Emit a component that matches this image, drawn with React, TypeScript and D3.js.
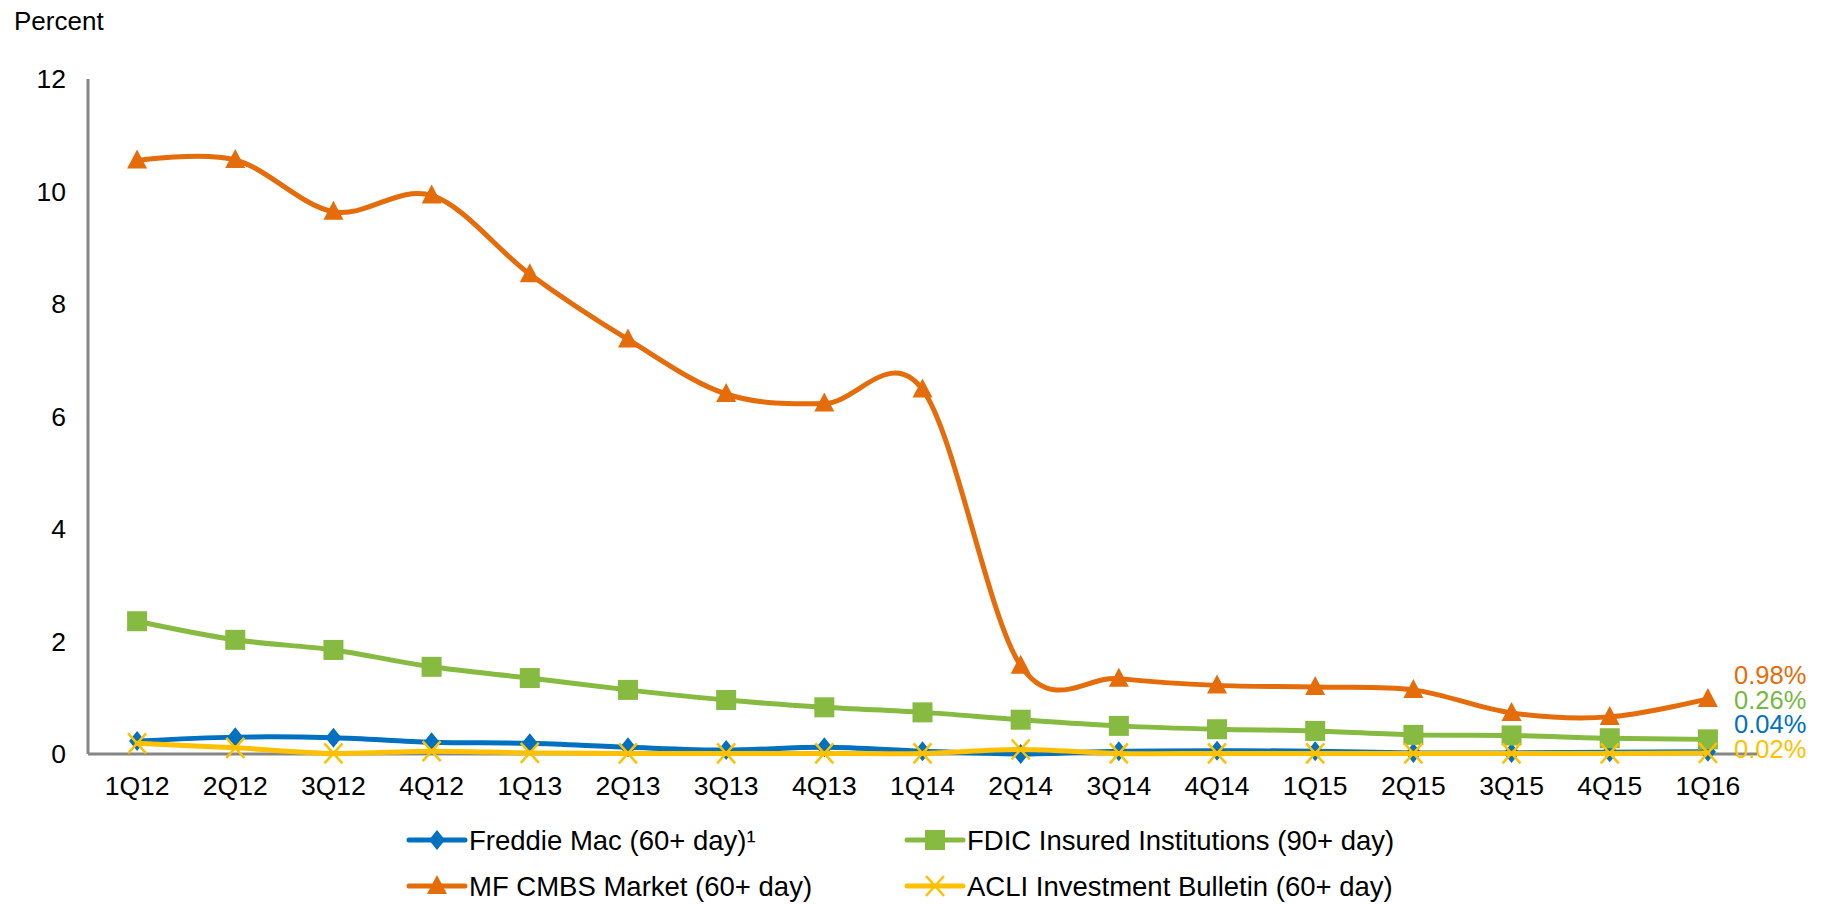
import { useEffect, useRef } from 'react';
import * as d3 from 'd3';

const quarters = [
  '1Q12', '2Q12', '3Q12', '4Q12', '1Q13', '2Q13', '3Q13', '4Q13', '1Q14',
  '2Q14', '3Q14', '4Q14', '1Q15', '2Q15', '3Q15', '4Q15', '1Q16',
];

const freddieMac = [0.23, 0.3, 0.29, 0.21, 0.19, 0.12, 0.07, 0.12, 0.05, 0.0, 0.05, 0.06, 0.05, 0.02, 0.02, 0.03, 0.04];
const fdic = [2.36, 2.03, 1.85, 1.55, 1.35, 1.14, 0.96, 0.83, 0.74, 0.61, 0.5, 0.44, 0.41, 0.34, 0.33, 0.28, 0.26];
const mfCmbs = [10.55, 10.56, 9.64, 9.93, 8.53, 7.37, 6.4, 6.23, 6.48, 1.57, 1.34, 1.22, 1.19, 1.14, 0.73, 0.66, 0.98];
const acli = [0.19, 0.11, 0.01, 0.05, 0.02, 0.01, 0.01, 0.01, 0.01, 0.08, 0.01, 0.01, 0.01, 0.01, 0.01, 0.01, 0.02];

const yTicks = [0, 2, 4, 6, 8, 10, 12];

const endLabels = ['0.98%', '0.26%', '0.04%', '0.02%'];

type Marker = 'diamond' | 'square' | 'triangle' | 'x';

const series: { name: string; values: number[]; color: string; marker: Marker }[] = [
  { name: 'Freddie Mac (60+ day)\u00b9', values: freddieMac, color: '#0070C0', marker: 'diamond' },
  { name: 'FDIC Insured Institutions (90+ day)', values: fdic, color: '#86BA41', marker: 'square' },
  { name: 'MF CMBS Market (60+ day)', values: mfCmbs, color: '#E46C0A', marker: 'triangle' },
  { name: 'ACLI Investment Bulletin (60+ day)', values: acli, color: '#FFC000', marker: 'x' },
];

const labelColors = ['#E46C0A', '#77B843', '#0070C0', '#FFC000'];

const FONT = '"Liberation Sans", Arial, sans-serif';

function drawMarker(g: d3.Selection<SVGGElement, unknown, null, undefined>, type: Marker, x: number, y: number, color: string) {
  if (type === 'diamond') {
    g.append('path')
      .attr('d', `M${x},${y - 10}L${x + 8},${y}L${x},${y + 10}L${x - 8},${y}Z`)
      .attr('fill', color);
  } else if (type === 'square') {
    g.append('rect')
      .attr('x', x - 10)
      .attr('y', y - 10)
      .attr('width', 20)
      .attr('height', 20)
      .attr('fill', color);
  } else if (type === 'triangle') {
    g.append('path')
      .attr('d', `M${x},${y - 11}L${x + 10},${y + 8}L${x - 10},${y + 8}Z`)
      .attr('fill', color);
  } else {
    g.append('path')
      .attr('d', `M${x - 9},${y - 10}L${x + 9},${y + 10}M${x + 9},${y - 10}L${x - 9},${y + 10}`)
      .attr('stroke', color)
      .attr('stroke-width', 2.5)
      .attr('fill', 'none');
  }
}

export default function App() {
  const svgRef = useRef<SVGSVGElement>(null);

  useEffect(() => {
    if (!svgRef.current) return;
    const svg = d3.select(svgRef.current);
    svg.selectAll('*').remove();

    const left = 88;
    const right = 1757;
    const top = 79;
    const bottom = 754;

    const x = d3.scalePoint<string>().domain(quarters).range([left, right]).padding(0.5);
    const y = d3.scaleLinear().domain([0, 12]).range([bottom, top]);

    // "Percent" title
    svg.append('text')
      .attr('x', 14)
      .attr('y', 30)
      .attr('font-family', FONT)
      .attr('font-size', 26)
      .attr('fill', '#000')
      .text('Percent');

    // Y tick labels
    svg.append('g')
      .selectAll('text')
      .data(yTicks)
      .enter()
      .append('text')
      .attr('x', 66)
      .attr('y', (d) => y(d))
      .attr('dy', '0.35em')
      .attr('text-anchor', 'end')
      .attr('font-family', FONT)
      .attr('font-size', 26.5)
      .attr('fill', '#000')
      .text((d) => d);

    // X tick labels
    svg.append('g')
      .selectAll('text')
      .data(quarters)
      .enter()
      .append('text')
      .attr('x', (d) => x(d)!)
      .attr('y', 795)
      .attr('text-anchor', 'middle')
      .attr('font-family', FONT)
      .attr('font-size', 26.5)
      .attr('fill', '#000')
      .text((d) => d);

    // Axes lines
    svg.append('line')
      .attr('x1', left)
      .attr('x2', left)
      .attr('y1', top)
      .attr('y2', bottom)
      .attr('stroke', '#868686')
      .attr('stroke-width', 3);
    svg.append('line')
      .attr('x1', left)
      .attr('x2', right)
      .attr('y1', bottom)
      .attr('y2', bottom)
      .attr('stroke', '#868686')
      .attr('stroke-width', 3);

    const line = d3
      .line<number>()
      .x((_, i) => x(quarters[i])!)
      .y((d) => y(d))
      .curve(d3.curveCatmullRom.alpha(0));

    series.forEach((s) => {
      const g = svg.append('g');
      g.append('path')
        .attr('d', line(s.values)!)
        .attr('fill', 'none')
        .attr('stroke', s.color)
        .attr('stroke-width', 5)
        .attr('stroke-linejoin', 'round')
        .attr('stroke-linecap', 'round');
      s.values.forEach((v, i) => drawMarker(g, s.marker, x(quarters[i])!, y(v), s.color));
    });

    // End-of-line value labels
    svg.append('g')
      .selectAll('text')
      .data(endLabels)
      .enter()
      .append('text')
      .attr('x', 1734)
      .attr('y', (_, i) => 684 + i * 24.7)
      .attr('font-family', FONT)
      .attr('font-size', 25.5)
      .attr('fill', (_, i) => labelColors[i])
      .text((d) => d);

    // Legend
    const legendPos = [
      { x: 409, y: 840 },
      { x: 907, y: 840 },
      { x: 409, y: 886 },
      { x: 907, y: 886 },
    ];
    series.forEach((s, i) => {
      const p = legendPos[i];
      const g = svg.append('g');
      g.append('line')
        .attr('x1', p.x)
        .attr('x2', p.x + 56)
        .attr('y1', p.y)
        .attr('y2', p.y)
        .attr('stroke', s.color)
        .attr('stroke-width', 5)
        .attr('stroke-linecap', 'round');
      drawMarker(g, s.marker, p.x + 28, p.y, s.color);
      g.append('text')
        .attr('x', p.x + 60)
        .attr('y', p.y + 9.5)
        .attr('font-family', FONT)
        .attr('font-size', 27.5)
        .attr('fill', '#000')
        .text(s.name);
    });
  }, []);

  return (
    <svg
      ref={svgRef}
      width={1828}
      height={904}
      style={{ position: 'absolute', left: 0, top: 0, background: '#fff' }}
    />
  );
}
